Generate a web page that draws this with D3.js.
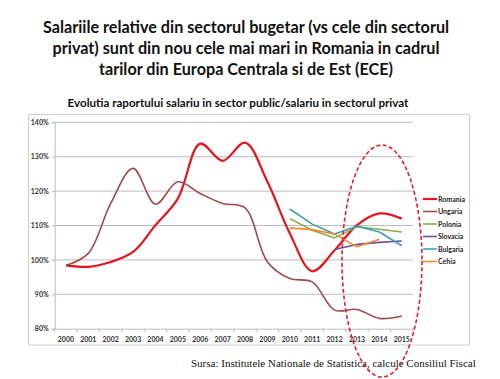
<!DOCTYPE html>
<html><head><meta charset="utf-8">
<script src="https://cdn.jsdelivr.net/npm/d3@7"></script>
<style>body{margin:0;background:#fff}svg{display:block}</style>
</head><body><svg id="c" width="500" height="379"></svg>
<script>
const years = ["2000","2001","2002","2003","2004","2005","2006","2007","2008","2009","2010","2011","2012","2013","2014","2015"];
const yTicks = [0.8,0.9,1.0,1.1,1.2,1.3,1.4];
const romania = [0.984,0.980,0.994,1.023,1.101,1.178,1.338,1.288,1.341,1.227,1.077,0.967,1.028,1.101,1.135,1.120];
const ungaria = [0.984,1.019,1.164,1.266,1.162,1.227,1.193,1.164,1.151,0.994,0.946,0.936,0.854,0.856,0.830,0.837];
const polonia = [null,null,null,null,null,null,null,null,null,null,1.120,1.086,1.064,1.096,1.089,1.081];
const slovacia = [null,null,null,null,null,null,null,null,null,null,null,null,1.030,1.045,1.051,1.055];
const bulgaria = [null,null,null,null,null,null,null,null,null,null,1.148,1.104,1.075,1.098,1.081,1.041];
const cehia = [null,null,null,null,null,null,null,null,null,null,1.093,1.088,1.075,1.038,1.060,null];
const seriesNames = ["Romania","Ungaria","Polonia","Slovacia","Bulgaria","Cehia"];
const seriesValues = [romania,ungaria,polonia,slovacia,bulgaria,cehia];
const seriesColors = ["#e8141b","#a24a47","#86ad4a","#6f4f9c","#3c9fba","#f08a34"];
const seriesWidths = [2.2,1.6,1.6,1.6,1.6,1.6];
const smooth = [true,true,false,false,false,false];

const svg = d3.select("#c");
const font = "Lato, 'Open Sans', sans-serif";

// titles
const titleLines = ["Salariile relative din sectorul bugetar (vs cele din sectorul","privat) sunt din nou cele mai mari in Romania in cadrul","tarilor din Europa Centrala si de Est (ECE)"];
svg.selectAll("text.t").data(titleLines).join("text").attr("class","t")
  .attr("x",246).attr("y",(d,i)=>33+i*21).attr("text-anchor","middle")
  .attr("font-family",font).attr("font-weight","bold").attr("font-size",16.2).attr("fill","#111").text(d=>d);
svg.append("text").attr("x",238).attr("y",107).attr("text-anchor","middle")
  .attr("font-family",font).attr("font-weight","bold").attr("font-size",11.6).attr("fill","#111")
  .text("Evolutia raportului salariu in sector public/salariu in sectorul privat");

// chart box
svg.append("rect").attr("x",28.5).attr("y",114.5).attr("width",441).attr("height",230.5)
  .attr("fill","none").attr("stroke","#d0d0d0").attr("stroke-width",1);

const x = d3.scaleBand().domain(years).range([54.7,413]);
const y = d3.scaleLinear().domain([0.8,1.4]).range([328.7,122.3]);

// gridlines
svg.append("g").selectAll("line").data(yTicks.slice(1)).join("line")
  .attr("x1",54.7).attr("x2",413).attr("y1",d=>y(d)).attr("y2",d=>y(d))
  .attr("stroke","#bdbdbd").attr("stroke-width",1);

const yAxis = svg.append("g").attr("transform","translate(54.7,0)")
  .call(d3.axisLeft(y).tickValues(yTicks).tickFormat(d3.format(".0%")).tickSize(3));
yAxis.select(".domain").attr("stroke","#bdbdbd");
yAxis.selectAll(".tick line").attr("stroke","#bdbdbd");
yAxis.selectAll("text").attr("font-family",font).attr("font-size",7).attr("font-weight","bold").attr("fill","#333");

const xAxis = svg.append("g").attr("transform","translate(0,328.7)")
  .call(d3.axisBottom(x).tickSize(0).tickPadding(8));
xAxis.select(".domain").attr("stroke","#bdbdbd");
xAxis.selectAll("text").attr("font-family",font).attr("font-size",7).attr("font-weight","bold").attr("fill","#333");
// tick marks at band boundaries
svg.append("g").selectAll("line").data(years.concat(["end"])).join("line")
  .attr("x1",(d,i)=>54.7+i*x.step()).attr("x2",(d,i)=>54.7+i*x.step())
  .attr("y1",328.7).attr("y2",332).attr("stroke","#bdbdbd");

// lines
seriesValues.forEach((vals,si)=>{
  const pts = vals.map((v,i)=>({yr:years[i],v})).filter(p=>p.v!=null);
  const line = d3.line().x(p=>x(p.yr)+x.bandwidth()/2).y(p=>y(p.v))
    .curve(smooth[si]?d3.curveCatmullRom.alpha(0.5):d3.curveLinear);
  svg.append("path").datum(pts).attr("d",line).attr("fill","none")
    .attr("stroke",seriesColors[si]).attr("stroke-width",seriesWidths[si]).attr("stroke-linejoin","round");
});

// legend
const lg = svg.append("g");
seriesNames.forEach((n,i)=>{
  const ly = 199+i*12.5;
  lg.append("line").attr("x1",423).attr("x2",437).attr("y1",ly).attr("y2",ly)
    .attr("stroke",seriesColors[i]).attr("stroke-width",seriesWidths[i]);
  lg.append("text").attr("x",438).attr("y",ly+2.5).attr("font-family",font).attr("font-weight","bold")
    .attr("font-size",7).attr("fill","#222").text(n);
});

// source
svg.append("text").attr("x",191).attr("y",366.5).attr("font-family","'Liberation Serif', 'Times New Roman', serif")
  .attr("font-size",11).attr("fill","#111").text("Sursa: Institutele Nationale de Statistica, calcule Consiliul Fiscal");

// highlight ellipse
svg.append("ellipse").attr("cx",382).attr("cy",261).attr("rx",40).attr("ry",116)
  .attr("fill","none").attr("stroke","#e0202a").attr("stroke-width",1.6).attr("stroke-dasharray","4,2.5");
</script></body></html>
